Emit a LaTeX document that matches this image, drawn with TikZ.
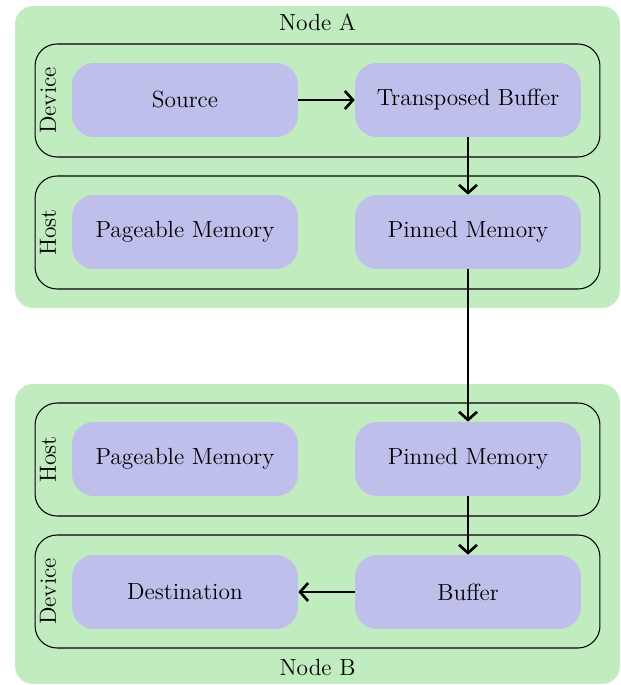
\documentclass[tikz,border=0pt]{standalone}
\usepackage{tikz}
\usetikzlibrary{arrows.meta}
\definecolor{clustergreen}{HTML}{C0ECC0}
\definecolor{memblue}{HTML}{BFBFEC}
\tikzset{
    machine/.style={draw=none, fill=clustergreen, rounded corners=0.36cm, minimum width=12.1cm},
    memspace/.style={draw, line width=0.6pt, rounded corners=0.44cm, minimum width=11.3cm, minimum height=2.26cm},
    buf/.style={fill=memblue, rounded corners=0.44cm, minimum width=4.52cm, minimum height=1.48cm, font=\fontsize{13.3}{16}\selectfont},
    lbl/.style={font=\fontsize{13.3}{16}\selectfont},
    copy/.style={-{Straight Barb[length=1.6mm, width=3.6mm]}, line width=1.5pt}
}
\begin{document}
\begin{tikzpicture}[x=0.02cm, y=-0.02cm]
    \useasboundingbox (0,0) rectangle (620,685);
    % the two machines
    \node[machine, minimum height=6.04cm] (nodeA) at (317.5,157) {};
    \node[machine, minimum height=6cm] (nodeB) at (317.5,534) {};
    \node[lbl] (nameA) at (317.5,22) {Node A};
    \node[lbl] (nameB) at (317.5,668) {Node B};
    % memory spaces
    \node[memspace] (devA) at (317.5,100.5) {};
    \node[memspace] (hostA) at (317.5,232.5) {};
    \node[memspace] (hostB) at (317.5,459.5) {};
    \node[memspace] (devB) at (317.5,591.5) {};
    \node[lbl, rotate=90] (devAlbl) at (48,100.5) {Device};
    \node[lbl, rotate=90] (hostAlbl) at (48,232.5) {Host};
    \node[lbl, rotate=90] (hostBlbl) at (48,459.5) {Host};
    \node[lbl, rotate=90] (devBlbl) at (48,591.5) {Device};
    % buffers
    \node[buf] (src) at (185,100) {Source};
    \node[buf] (trans) at (468,100) {Transposed Buffer};
    \node[buf] (pageA) at (185,232) {Pageable Memory};
    \node[buf] (pinA) at (468,232) {Pinned Memory};
    \node[buf] (pageB) at (185,459) {Pageable Memory};
    \node[buf] (pinB) at (468,459) {Pinned Memory};
    \node[buf] (dst) at (185,592) {Destination};
    \node[buf] (bufB) at (468,592) {Buffer};
    % copies
    \draw[copy] (src) -- (trans);
    \draw[copy] (trans) -- (pinA);
    \draw[copy] (pinA) -- (pinB);
    \draw[copy] (pinB) -- (bufB);
    \draw[copy] (bufB) -- (dst);
\end{tikzpicture}
\end{document}
